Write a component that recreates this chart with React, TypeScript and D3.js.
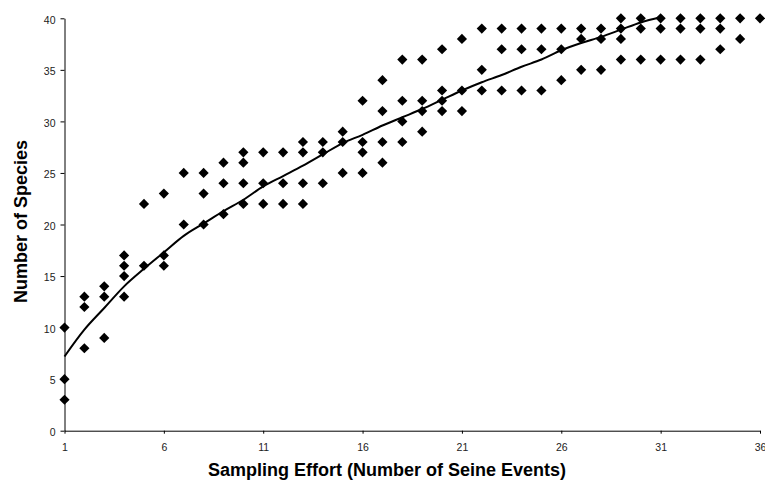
import React, { useEffect, useRef } from 'react';
import * as d3 from 'd3';

// sampling effort (number of seine events) for each observed point
const effort = [
  1, 1, 1, 2, 2, 2, 3, 3, 3, 4, 4, 4, 4, 5, 5, 6, 6, 6, 7, 7, 8, 8, 8, 9, 9, 9,
  10, 10, 10, 10, 11, 11, 11, 12, 12, 12, 13, 13, 13, 13, 14, 14, 14, 15, 15, 15,
  16, 16, 16, 16, 17, 17, 17, 17, 18, 18, 18, 18, 19, 19, 19, 19, 20, 20, 20, 20,
  21, 21, 21, 22, 22, 22, 23, 23, 23, 24, 24, 24, 25, 25, 25, 26, 26, 26,
  27, 27, 27, 28, 28, 28, 29, 29, 29, 29, 30, 30, 30, 31, 31, 31, 32, 32, 32,
  33, 33, 33, 34, 34, 34, 35, 35, 36,
];

// number of species found at that effort
const species = [
  10, 5, 3, 13, 12, 8, 14, 13, 9, 17, 16, 15, 13, 22, 16, 23, 17, 16, 25, 20, 25, 23, 20, 26, 24, 21,
  27, 26, 24, 22, 27, 24, 22, 27, 24, 22, 28, 27, 24, 22, 28, 27, 24, 29, 28, 25,
  32, 28, 27, 25, 34, 31, 28, 26, 36, 32, 30, 28, 36, 32, 31, 29, 37, 33, 32, 31,
  38, 33, 31, 39, 35, 33, 39, 37, 33, 39, 37, 33, 39, 37, 33, 39, 37, 34,
  39, 38, 35, 39, 38, 35, 40, 39, 38, 36, 40, 39, 36, 40, 39, 36, 40, 39, 36,
  40, 39, 36, 40, 39, 37, 40, 38, 40,
];

// fitted accumulation curve, read at effort 1..31
const trendEffort = d3.range(1, 32);
const trendSpecies = [
  7.2, 9.8, 11.9, 14.0, 15.7, 17.3, 18.9, 20.1, 21.3, 22.4, 23.7, 24.7, 25.7, 26.8, 27.9, 28.7,
  29.6, 30.4, 31.2, 32.1, 33.0, 33.8, 34.5, 35.3, 36.0, 36.9, 37.6, 38.2, 38.9, 39.6, 40.1,
];

const xTicks = [1, 6, 11, 16, 21, 26, 31, 36];
const yTicks = [0, 5, 10, 15, 20, 25, 30, 35, 40];

const App = () => {
  const ref = useRef<SVGSVGElement | null>(null);

  useEffect(() => {
    if (!ref.current) return;
    const svg = d3.select(ref.current);
    svg.selectAll('*').remove();

    const width = 765;
    const height = 480;
    const left = 64.5;
    const right = 760;
    const top = 18.3;
    const bottom = 430.7;

    svg.attr('width', width).attr('height', height);
    svg.append('rect').attr('width', width).attr('height', height).attr('fill', '#fff');

    const x = d3.scaleLinear().domain([1, 36]).range([left, right]);
    const y = d3.scaleLinear().domain([0, 40]).range([bottom, top]);

    const font = '"Liberation Sans", Arial, sans-serif';

    const yAxis = svg.append('g')
      .attr('transform', `translate(${left},0)`)
      .call(d3.axisLeft(y).tickValues(yTicks).tickSize(4).tickSizeOuter(0).tickPadding(5));
    yAxis.select('.domain').attr('stroke', '#000');
    yAxis.selectAll('.tick line').attr('stroke', '#000');
    yAxis.selectAll('.tick text')
      .attr('font-family', font).attr('font-size', 10.5).attr('fill', '#222').attr('dy', '0.45em');

    const xAxis = svg.append('g')
      .attr('transform', `translate(0,${bottom})`)
      .call(d3.axisBottom(x).tickValues(xTicks).tickSize(3).tickSizeOuter(0).tickPadding(10));
    xAxis.select('.domain').attr('stroke', '#000');
    xAxis.selectAll('.tick line').attr('stroke', '#000');
    xAxis.selectAll('.tick text')
      .attr('font-family', font).attr('font-size', 10.5).attr('fill', '#222');

    // trend curve
    const line = d3.line<number>()
      .x((_, i) => x(trendEffort[i]))
      .y((d) => y(d))
      .curve(d3.curveMonotoneX);
    svg.append('path')
      .datum(trendSpecies)
      .attr('fill', 'none')
      .attr('stroke', '#000')
      .attr('stroke-width', 2)
      .attr('d', line);

    // diamonds
    const diamond = d3.symbol().type(d3.symbolDiamond2).size(66);
    svg.append('g')
      .selectAll('path')
      .data(effort)
      .join('path')
      .attr('transform', (d, i) => `translate(${x(d)},${y(species[i])})`)
      .attr('d', diamond)
      .attr('fill', '#000');

    svg.append('text')
      .attr('transform', `translate(27,221.5) rotate(-90)`)
      .attr('text-anchor', 'middle')
      .attr('font-family', font)
      .attr('font-size', 18)
      .attr('font-weight', 'bold')
      .attr('fill', '#000')
      .text('Number of Species');

    svg.append('text')
      .attr('x', 387)
      .attr('y', 476)
      .attr('text-anchor', 'middle')
      .attr('font-family', font)
      .attr('font-size', 18)
      .attr('font-weight', 'bold')
      .attr('fill', '#000')
      .text('Sampling Effort (Number of Seine Events)');
  }, []);

  return (
    <div style={{ position: 'absolute', left: 0, top: 0, width: 765, height: 480, background: '#fff' }}>
      <svg ref={ref} style={{ display: 'block' }} />
    </div>
  );
};

export default App;
